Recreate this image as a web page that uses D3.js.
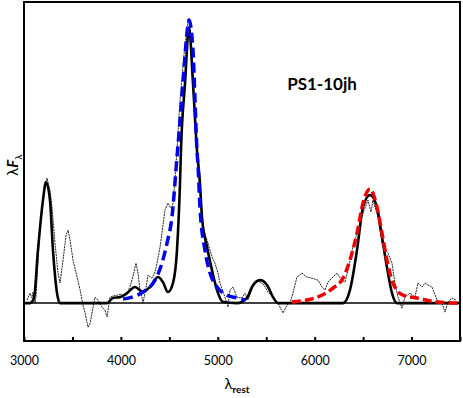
<!DOCTYPE html>
<html lang="en">
    <head>
        <meta charset="utf-8">
        <title>PS1-10jh</title>
        <script type="text/javascript" src="https://cdn.jsdelivr.net/npm/d3@7"></script>
        <style>
            body { margin: 0; background: white; }
        </style>
    </head>
    <body>
        <script type="text/javascript">
            const w = 463
            const h = 398

            // observed spectrum [lambda, lambda F_lambda]
            const observed = [
                [3031,0.011],[3062,0.035],[3083,0.018],[3093,0.039],[3114,0],[3124,0.025],
                [3165,0.269],[3206,0.399],[3237,0.442],[3268,0.399],[3289,0.339],[3320,0.212],
                [3351,0.106],[3372,0.071],[3403,0.152],[3434,0.240],[3454,0.258],[3475,0.223],
                [3506,0.152],[3548,0.092],[3579,0.046],[3609,-0.007],[3630,-0.035],[3661,-0.085],
                [3682,-0.071],[3713,-0.014],[3733,0.021],[3764,0.011],[3805,-0.014],[3836,-0.025],
                [3857,-0.049],[3888,0.021],[3918,0.025],[3960,0.028],[4001,0.032],[4032,0.025],
                [4063,0.032],[4094,0.057],[4125,0.095],[4156,0.141],[4177,0.106],[4197,0.046],
                [4218,0.021],[4228,0],[4259,0.053],[4280,0.099],[4321,0.088],[4352,0.110],
                [4373,0.141],[4404,0.198],[4435,0.276],[4455,0.329],[4486,0.353],[4507,0.339],
                [4527,0.339],[4538,0.353],[4558,0.435],[4579,0.541],[4610,0.717],[4651,0.876],
                [4693,1.0],[4703,1.007],[4724,0.929],[4755,0.717],[4785,0.541],[4816,0.399],
                [4847,0.269],[4878,0.233],[4899,0.212],[4940,0.163],[4971,0.141],[5002,0.106],
                [5023,0.071],[5074,0.021],[5105,-0.014],[5126,0.046],[5157,0.057],[5198,0.021],
                [5250,0.018],[5281,0.035],[5312,0.011],[5364,0.057],[5405,0.081],[5436,0.074],
                [5477,0.064],[5518,0.039],[5570,0.021],[5621,0],[5673,-0.035],[5714,-0.007],
                [5745,0],[5776,0.035],[5817,0.092],[5869,0.106],[5920,0.092],[5972,0.088],
                [6034,0.081],[6075,0.057],[6106,0.046],[6137,0.074],[6189,0.092],[6230,0.106],
                [6282,0.081],[6313,0.074],[6344,0.117],[6395,0.198],[6447,0.258],[6499,0.318],
                [6550,0.364],[6581,0.322],[6602,0.364],[6653,0.304],[6695,0.212],[6726,0.187],
                [6757,0.177],[6798,0.141],[6829,0.071],[6860,0.021],[6901,-0.018],[6932,0.021],
                [6984,0.035],[7035,0.021],[7066,0.071],[7108,0.057],[7138,0.071],[7169,0.064],
                [7211,0.057],[7262,0.011],[7314,0],[7345,-0.032],[7376,0.004],[7417,0.018],
                [7458,0.011]
            ]

            // line model (solid black)
            const model = [
                [3000,0],[3062,0],[3103,0.018],[3144,0.187],[3196,0.364],[3227,0.428],
                [3268,0.364],[3299,0.187],[3341,0.035],[3372,0],[3857,0],[3918,0.018],
                [3991,0.021],[4063,0.035],[4146,0.057],[4228,0.039],[4300,0.057],[4383,0.092],
                [4434,0.074],[4486,0.039],[4538,0.071],[4579,0.187],[4610,0.424],[4620,0.541],
                [4662,0.777],[4703,0.975],[4744,0.777],[4785,0.541],[4816,0.424],[4837,0.304],
                [4889,0.198],[4940,0.117],[4992,0.046],[5054,0.004],[5198,0],[5301,0.018],
                [5353,0.057],[5436,0.081],[5508,0.064],[5570,0.021],[5621,0],[6292,0],
                [6364,0.046],[6437,0.187],[6499,0.339],[6571,0.382],[6643,0.339],[6695,0.233],
                [6746,0.127],[6798,0.035],[6850,0],[7500,0]
            ]

            // He II fit (blue dashed)
            const heFit = [
                [4022,0.014],[4115,0.021],[4228,0.039],[4352,0.081],[4424,0.141],[4476,0.212],
                [4527,0.304],[4579,0.516],[4600,0.601],[4641,0.777],[4682,0.954],[4703,1.0],
                [4744,0.894],[4765,0.717],[4785,0.541],[4796,0.488],[4816,0.339],[4868,0.187],
                [4920,0.106],[4992,0.057],[5095,0.028],[5198,0.018],[5281,0.011]
            ]

            // H alpha fit (red dashed)
            const haFit = [
                [5766,0.004],[6025,0.021],[6189,0.053],[6292,0.088],[6364,0.152],[6437,0.247],
                [6499,0.353],[6571,0.403],[6643,0.339],[6695,0.247],[6746,0.152],[6808,0.071],
                [6912,0.028],[7056,0.018],[7262,0.004],[7500,0]
            ]

            const xTicks = [3000,3500,4000,4500,5000,5500,6000,6500,7000,7500]
            const xLabels = [3000,4000,5000,6000,7000]

            let x = d3.scaleLinear().domain([3000,7500]).range([24,460])
            let y = d3.scaleLinear().domain([-0.134,1.064]).range([341,2])

            let svg = d3.select("body")
                        .append("svg")
                            .attr("width",w)
                            .attr("height",h)
                            .style("font-family","Lato, 'Open Sans', sans-serif")

            svg.append("defs").append("clipPath").attr("id","plot")
                .append("rect")
                    .attr("x",24).attr("y",2)
                    .attr("width",436).attr("height",339)

            let line = d3.line()
                         .x(d=>x(d[0]))
                         .y(d=>y(d[1]))

            let g = svg.append("g").attr("clip-path","url(#plot)")

            g.append("path")
                .datum(observed)
                .attr("d",line.curve(d3.curveLinear))
                .attr("fill","none")
                .attr("stroke","#222")
                .attr("stroke-width",1)
                .attr("stroke-dasharray","2,0.8")

            // zero level
            g.append("line")
                .attr("x1",x(3000)).attr("x2",x(7500))
                .attr("y1",y(0)).attr("y2",y(0))
                .attr("stroke","black")
                .attr("stroke-width",1.5)

            let smooth = d3.line()
                           .x(d=>x(d[0]))
                           .y(d=>y(d[1]))
                           .curve(d3.curveMonotoneX)

            g.append("path")
                .datum(model)
                .attr("d",smooth)
                .attr("fill","none")
                .attr("stroke","black")
                .attr("stroke-width",2.6)

            g.append("path")
                .datum(heFit)
                .attr("d",smooth)
                .attr("fill","none")
                .attr("stroke","#0000ee")
                .attr("stroke-width",3.5)
                .attr("stroke-dasharray","10,5")

            g.append("path")
                .datum(haFit)
                .attr("d",smooth)
                .attr("fill","none")
                .attr("stroke","#ee0000")
                .attr("stroke-width",3.5)
                .attr("stroke-dasharray","9,4")

            // frame
            svg.append("rect")
                .attr("x",24).attr("y",2)
                .attr("width",436).attr("height",339)
                .attr("fill","none")
                .attr("stroke","black")
                .attr("stroke-width",2)

            let xAxis = d3.axisBottom(x)
                          .tickValues(xTicks)
                          .tickSize(-4)
                          .tickPadding(15)
                          .tickFormat(d=>xLabels.includes(d) ? d : "")

            let ax = svg.append("g")
                        .attr("transform","translate(0,341)")
                        .call(xAxis)
            ax.select(".domain").remove()
            ax.selectAll(".tick line").attr("stroke","black").attr("stroke-width",2)
            ax.selectAll(".tick text")
                .attr("font-family","Lato, 'Open Sans', sans-serif")
                .attr("font-size","12.5px")
                .attr("fill","black")

            svg.append("text")
                .attr("x",322)
                .attr("y",90)
                .attr("text-anchor","middle")
                .attr("font-size","17px")
                .attr("font-weight","bold")
                .attr("fill","black")
                .text("PS1-10jh")

            let xl = svg.append("text")
                .attr("x",237)
                .attr("y",389)
                .attr("text-anchor","middle")
                .attr("font-size","15px")
                .attr("fill","black")
            xl.append("tspan").text("λ")
            xl.append("tspan").attr("font-size","10px").attr("font-weight","bold").attr("dy",4).text("rest")

            let yl = svg.append("text")
                .attr("transform","translate(18,165) rotate(-90)")
                .attr("text-anchor","middle")
                .attr("font-size","15px")
                .attr("fill","black")
            yl.append("tspan").text("λ")
            yl.append("tspan").attr("font-style","italic").attr("font-weight","bold").text("F")
            yl.append("tspan").attr("font-size","10px").attr("dy",4).text("λ")
        </script>
    </body>
</html>
